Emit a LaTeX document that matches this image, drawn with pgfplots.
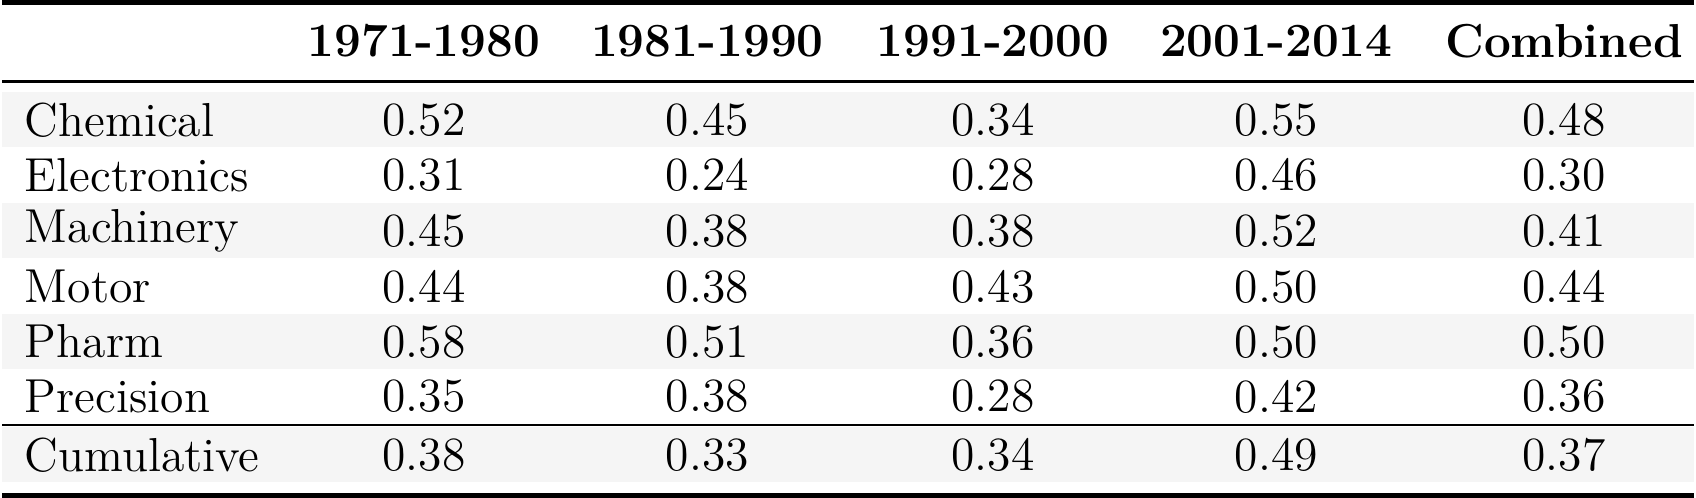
\documentclass[border=0pt]{standalone}
\usepackage{pgfplots}
\pgfplotsset{compat=1.18}
\definecolor{stripe}{HTML}{F5F5F5}
\begin{document}
\begin{tikzpicture}
\begin{axis}[hide axis, scale only axis, width=16cm, height=4.653cm,
  xmin=0, xmax=1568, ymin=0, ymax=456, y dir=reverse, clip=false,
  every node near coord/.append style={font=\fontsize{12.6}{15}\selectfont, anchor=center, inner sep=0pt},
  cell/.style={draw=none, mark=none, only marks, nodes near coords, point meta=explicit symbolic}]
\fill[stripe] (axis cs:8,85) rectangle (axis cs:1548,135);
\fill[stripe] (axis cs:8,186) rectangle (axis cs:1548,236);
\fill[stripe] (axis cs:8,287) rectangle (axis cs:1548,337);
\fill[stripe] (axis cs:8,390) rectangle (axis cs:1548,440);
\draw[line width=1.2pt] (axis cs:8,3) -- (axis cs:1548,3);
\draw[line width=0.9pt] (axis cs:8,75) -- (axis cs:1548,75);
\draw[line width=0.45pt] (axis cs:8,388) -- (axis cs:1548,388);
\draw[line width=1.2pt] (axis cs:8,452) -- (axis cs:1548,452);
% headers
\addplot[cell, every node near coord/.append style={font=\fontsize{12.6}{15}\selectfont\bfseries}] coordinates {
 (392,38) [1971-1980] (650,38) [1981-1990] (910,38) [1991-2000] (1168,38) [2001-2014] (1430,38) [Combined]};
% row labels
\addplot[cell, every node near coord/.append style={anchor=west}] coordinates {
 (28,110) [Chemical] (28,160) [Electronics] (28,211) [Machinery] (28,262) [Motor] (28,312) [Pharm] (28,362) [Precision] (28,415) [Cumulative]};
% values
\addplot[cell] coordinates {(392,110) [0.52] (392,160) [0.31] (392,211) [0.45] (392,262) [0.44] (392,312) [0.58] (392,362) [0.35] (392,415) [0.38]};
\addplot[cell] coordinates {(650,110) [0.45] (650,160) [0.24] (650,211) [0.38] (650,262) [0.38] (650,312) [0.51] (650,362) [0.38] (650,415) [0.33]};
\addplot[cell] coordinates {(910,110) [0.34] (910,160) [0.28] (910,211) [0.38] (910,262) [0.43] (910,312) [0.36] (910,362) [0.28] (910,415) [0.34]};
\addplot[cell] coordinates {(1168,110) [0.55] (1168,160) [0.46] (1168,211) [0.52] (1168,262) [0.50] (1168,312) [0.50] (1168,362) [0.42] (1168,415) [0.49]};
\addplot[cell] coordinates {(1430,110) [0.48] (1430,160) [0.30] (1430,211) [0.41] (1430,262) [0.44] (1430,312) [0.50] (1430,362) [0.36] (1430,415) [0.37]};
\end{axis}
\end{tikzpicture}
\end{document}
